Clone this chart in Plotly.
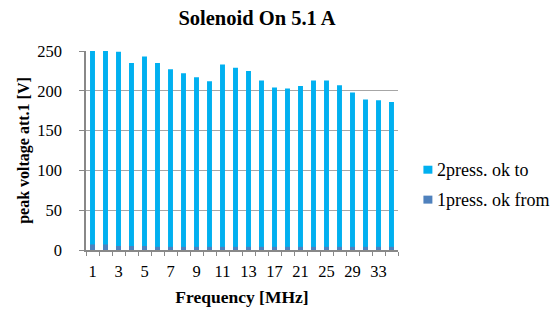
import plotly.graph_objects as go

categories = ["1", "2", "3", "4", "5", "6", "7", "8", "9", "10", "11", "12", "13",
              "15", "17", "19", "21", "23", "25", "27", "29", "31", "33", "35"]
press_ok_to = [250, 250, 249, 235, 243, 235, 227, 222, 217, 212, 233, 229, 225,
               213, 204, 203, 206, 213, 213, 207, 198, 189, 188, 186]
press_ok_from = [7, 7, 5, 5, 5, 4, 4, 4, 4, 4, 4, 4, 4,
                 4, 4, 4, 4, 4, 4, 4, 4, 4, 4, 4]
tick_labels = [c if i % 2 == 0 else "" for i, c in enumerate(categories)]
series_names = ["2press. ok to", "1press. ok from"]
series_colors = ["#00B0F0", "#4F81BD"]

SERIF = "Liberation Serif, Times New Roman, serif"

# page has an 8px body margin -> figure is drawn in page coords offset by 8
W, H = 550, 309
L, T = 77.5, 43.0
PW, PH = 313.0, 199.5
R = W - L - PW
B = H - T - PH


def px_x(x):
    return (x - 8 - L) / PW


def px_y(y):
    return 1 - (y - 8 - T) / PH


fig = go.Figure()
fig.add_trace(go.Bar(x=categories, y=press_ok_to, name=series_names[0],
                     marker=dict(color=series_colors[0], line=dict(width=0))))
fig.add_trace(go.Bar(x=categories, y=press_ok_from, name=series_names[1],
                     marker=dict(color=series_colors[1], line=dict(width=0))))

# custom legend (squares + text)
shapes = []
annotations = []
for i, (nm, col) in enumerate(zip(series_names, series_colors)):
    cy = 170 + 30 * i
    shapes.append(dict(type="rect", xref="paper", yref="paper",
                       x0=px_x(424), x1=px_x(433), y0=px_y(cy + 4), y1=px_y(cy - 4),
                       fillcolor=col, line=dict(width=0)))
    annotations.append(dict(text=nm, xref="paper", yref="paper", x=px_x(436),
                            y=px_y(cy), xanchor="left", yanchor="middle", showarrow=False,
                            font=dict(family=SERIF, size=18, color="black")))

fig.update_layout(
    width=W, height=H,
    barmode="overlay", bargap=0.62,
    paper_bgcolor="white", plot_bgcolor="white",
    margin=dict(l=L, r=R, t=T, b=B, autoexpand=False),
    font=dict(family=SERIF, size=16, color="black"),
    title=dict(text="<b>Solenoid On 5.1 A</b>", x=(257 - 8) / W, xanchor="center",
               y=1 - (18 - 8) / H, yanchor="middle", xref="container", yref="container",
               font=dict(family=SERIF, size=20.5, color="black")),
    showlegend=False,
    shapes=shapes,
    annotations=annotations,
)
fig.update_xaxes(
    type="category", tickmode="array", tickvals=categories, ticktext=tick_labels,
    tickson="boundaries", ticks="outside", ticklen=4, tickcolor="#888888",
    showline=True, linecolor="#888888", linewidth=1.5, showgrid=False,
    tickfont=dict(family=SERIF, size=16.5), tickangle=0, ticklabelstandoff=5,
    automargin=False,
    title=dict(text="<b>Frequency [MHz]</b>", font=dict(family=SERIF, size=17.5), standoff=11),
)
fig.update_yaxes(
    range=[0, 250], tickvals=[0, 50, 100, 150, 200, 250],
    ticks="outside", ticklen=5, tickcolor="#888888",
    showline=True, linecolor="#888888", linewidth=1.5,
    showgrid=True, gridcolor="#A6A6A6", gridwidth=1.2, zeroline=False,
    tickfont=dict(family=SERIF, size=16.5), ticklabelstandoff=14,
    automargin=False,
    title=dict(text="<b>peak voltage att.1 [V]</b>", font=dict(family=SERIF, size=16), standoff=4),
)

fig.write_html("out.html")
